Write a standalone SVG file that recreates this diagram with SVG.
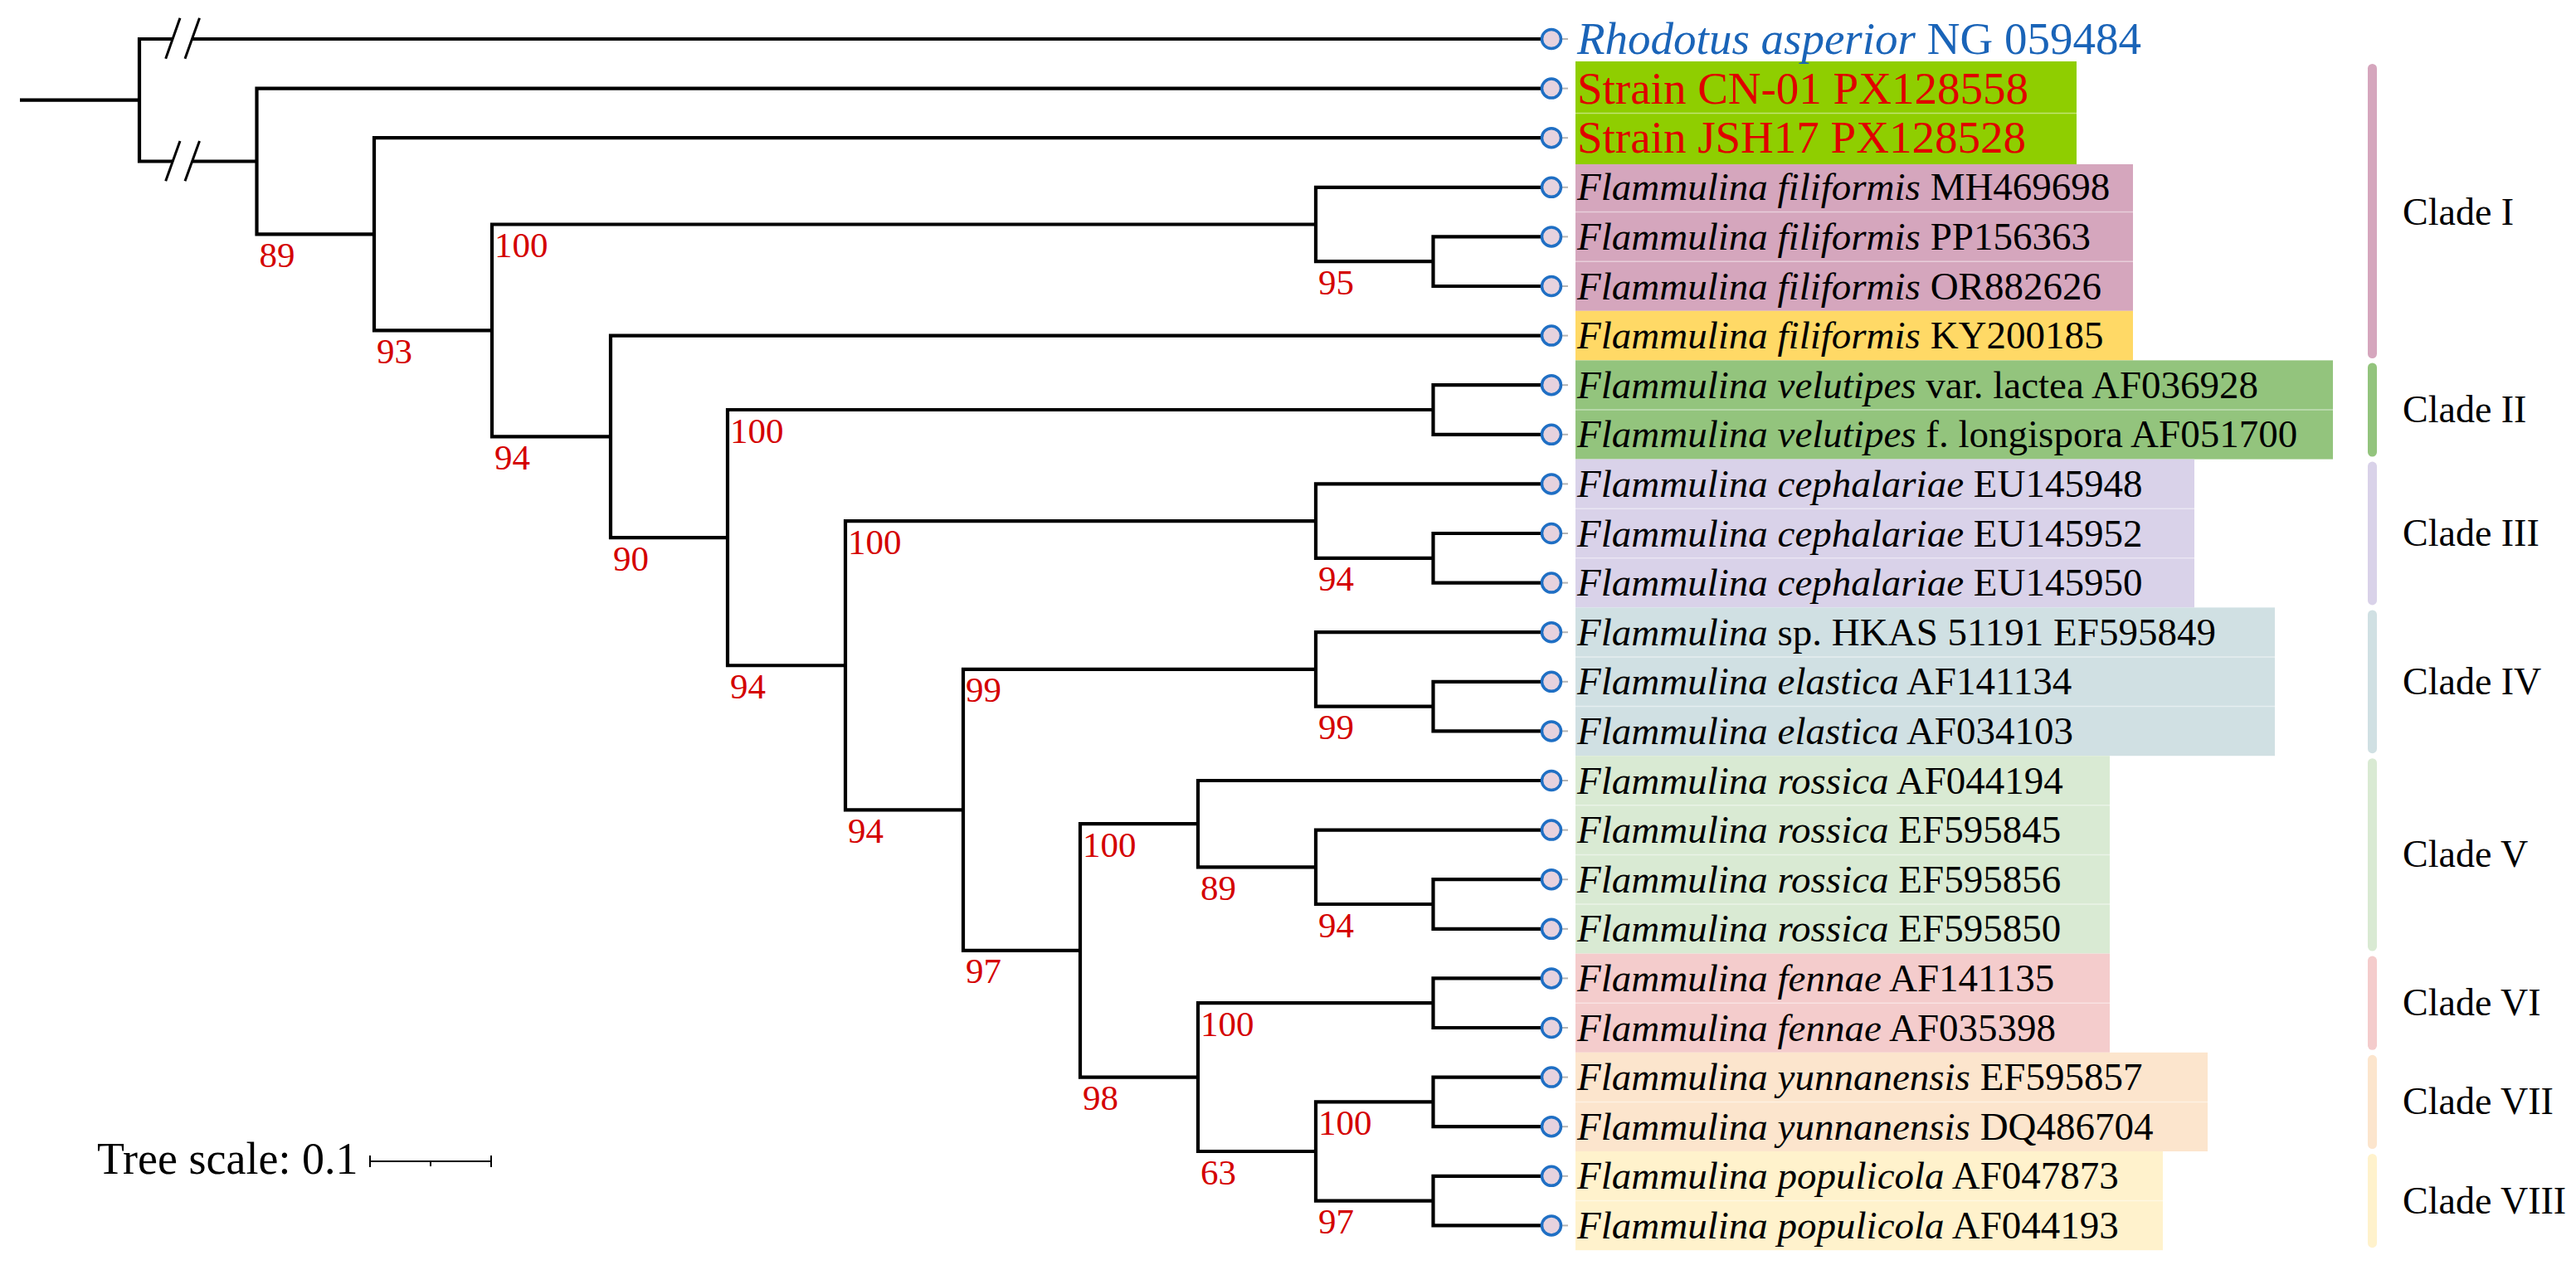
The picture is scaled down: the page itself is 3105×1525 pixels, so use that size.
<svg xmlns="http://www.w3.org/2000/svg" width="3105" height="1525" viewBox="0 0 3105 1525">
<style>
.br{fill:none;stroke:#000;stroke-width:4.2;stroke-linejoin:miter;stroke-linecap:butt}
.sl{fill:none;stroke:#000;stroke-width:3}
.bs{font-family:"Liberation Serif","Times New Roman",serif;font-size:43px;fill:#d40000}
.lf{font-family:"Liberation Serif","Times New Roman",serif;font-size:47px;fill:#000}
.big{font-size:55px}
.red{fill:#e00000}
.blue{fill:#1a64b8}
.it{font-style:italic}
.tip{fill:#e6d2de;stroke:#1f6fc4;stroke-width:3.5}
.stub{stroke:#b4b4b4;stroke-width:2}
.sep{stroke:#ffffff;stroke-opacity:0.45;stroke-width:1.5}
.cl{font-family:"Liberation Serif","Times New Roman",serif;font-size:46px;fill:#000}
.sc{font-family:"Liberation Serif","Times New Roman",serif;font-size:54px;fill:#000}
.scl{fill:none;stroke:#000;stroke-width:2}
</style>
<rect x="0" y="0" width="3105" height="1525" fill="#ffffff"/>

<!-- background label strips -->
<g id="strips">
<rect x="1899" y="74" width="604" height="124" fill="#8fce00"/>
<rect x="1899" y="198" width="672" height="176.8" fill="#d5a6bd"/>
<rect x="1899" y="374.8" width="672" height="59.6" fill="#ffd966"/>
<rect x="1899" y="434.4" width="913" height="119.2" fill="#93c47d"/>
<rect x="1899" y="553.6" width="746" height="178.8" fill="#d9d2e9"/>
<rect x="1899" y="732.4" width="843" height="178.8" fill="#d0e0e3"/>
<rect x="1899" y="911.2" width="644" height="238.4" fill="#d9ead3"/>
<rect x="1899" y="1149.6" width="644" height="119.2" fill="#f4cccc"/>
<rect x="1899" y="1268.8" width="762" height="119.2" fill="#fce5cd"/>
<rect x="1899" y="1388" width="708" height="119.2" fill="#fff2cc"/>
<line class="sep" x1="1899" y1="136.4" x2="2503" y2="136.4"/>
<line class="sep" x1="1899" y1="255.6" x2="2571" y2="255.6"/>
<line class="sep" x1="1899" y1="315.2" x2="2571" y2="315.2"/>
<line class="sep" x1="1899" y1="494" x2="2812" y2="494"/>
<line class="sep" x1="1899" y1="613.2" x2="2645" y2="613.2"/>
<line class="sep" x1="1899" y1="672.8" x2="2645" y2="672.8"/>
<line class="sep" x1="1899" y1="792" x2="2742" y2="792"/>
<line class="sep" x1="1899" y1="851.6" x2="2742" y2="851.6"/>
<line class="sep" x1="1899" y1="970.8" x2="2543" y2="970.8"/>
<line class="sep" x1="1899" y1="1030.4" x2="2543" y2="1030.4"/>
<line class="sep" x1="1899" y1="1090" x2="2543" y2="1090"/>
<line class="sep" x1="1899" y1="1209.2" x2="2543" y2="1209.2"/>
<line class="sep" x1="1899" y1="1328.4" x2="2661" y2="1328.4"/>
<line class="sep" x1="1899" y1="1447.6" x2="2607" y2="1447.6"/>
</g>

<!-- connectors -->
<g id="connectors">
<path class="br" d="M24 120.7 H168"/>
<path class="br" d="M208 47 H168 V194.5 H208"/>
<path class="br" d="M231.5 47 H1870"/>
<path class="br" d="M231.5 194.5 H309.5"/>
<line class="sl" x1="199.7" y1="70.7" x2="217" y2="21.7"/>
<line class="sl" x1="223" y1="70.7" x2="240.5" y2="21.7"/>
<line class="sl" x1="199.7" y1="218.3" x2="217" y2="170"/>
<line class="sl" x1="223" y1="218.3" x2="240.5" y2="170"/>
<path class="br" d="M1870 106.6 H309.5 V282.3 H451"/>
<path class="br" d="M1870 166.2 H451 V398.4 H593"/>
<path class="br" d="M1586 270.5 H593 V526.4 H736"/>
<path class="br" d="M1870 225.8 H1586 V315.2 H1727.5"/>
<path class="br" d="M1870 285.4 H1727.5 V345 H1870"/>
<path class="br" d="M1870 404.6 H736 V648.1 H877"/>
<path class="br" d="M1727.5 494 H877 V802.25 H1019"/>
<path class="br" d="M1870 464.2 H1727.5 V523.8 H1870"/>
<path class="br" d="M1586 628.1 H1019 V976.4 H1161"/>
<path class="br" d="M1870 583.4 H1586 V672.8 H1727.5"/>
<path class="br" d="M1870 643 H1727.5 V702.6 H1870"/>
<path class="br" d="M1586 806.9 H1161 V1145.9 H1302"/>
<path class="br" d="M1870 762.2 H1586 V851.6 H1727.5"/>
<path class="br" d="M1870 821.8 H1727.5 V881.4 H1870"/>
<path class="br" d="M1444 993.15 H1302 V1298.6 H1444"/>
<path class="br" d="M1870 941 H1444 V1045.3 H1586"/>
<path class="br" d="M1870 1000.6 H1586 V1090 H1727.5"/>
<path class="br" d="M1870 1060.2 H1727.5 V1119.8 H1870"/>
<path class="br" d="M1727.5 1209.2 H1444 V1388 H1586"/>
<path class="br" d="M1870 1179.4 H1727.5 V1239 H1870"/>
<path class="br" d="M1727.5 1328.4 H1586 V1447.6 H1727.5"/>
<path class="br" d="M1870 1298.6 H1727.5 V1358.2 H1870"/>
<path class="br" d="M1870 1417.8 H1727.5 V1477.4 H1870"/>
</g>

<!-- support values -->
<g id="supports">
<text class="bs" x="312.5" y="321.8">89</text>
<text class="bs" x="454" y="437.9">93</text>
<text class="bs" x="596" y="310">100</text>
<text class="bs" x="596" y="565.9">94</text>
<text class="bs" x="1589" y="354.7">95</text>
<text class="bs" x="739" y="687.6">90</text>
<text class="bs" x="880" y="533.5">100</text>
<text class="bs" x="880" y="841.75">94</text>
<text class="bs" x="1022" y="667.6">100</text>
<text class="bs" x="1022" y="1015.9">94</text>
<text class="bs" x="1589" y="712.3">94</text>
<text class="bs" x="1164" y="846.4">99</text>
<text class="bs" x="1164" y="1185.4">97</text>
<text class="bs" x="1589" y="891.1">99</text>
<text class="bs" x="1305" y="1032.65">100</text>
<text class="bs" x="1305" y="1338.1">98</text>
<text class="bs" x="1447" y="1084.8">89</text>
<text class="bs" x="1589" y="1129.5">94</text>
<text class="bs" x="1447" y="1248.7">100</text>
<text class="bs" x="1447" y="1427.5">63</text>
<text class="bs" x="1589" y="1367.9">100</text>
<text class="bs" x="1589" y="1487.1">97</text>
</g>

<!-- leaves -->
<g id="leaf1"><line class="stub" x1="1881" y1="47" x2="1890" y2="47"/><circle class="tip" cx="1870" cy="47" r="11.5"/><text class="lf big blue" x="1901" y="65"><tspan class="it">Rhodotus asperior</tspan> NG 059484</text></g>
<g id="leaf2"><line class="stub" x1="1881" y1="106.6" x2="1890" y2="106.6"/><circle class="tip" cx="1870" cy="106.6" r="11.5"/><text class="lf big red" x="1901" y="124.6">Strain CN-01 PX128558</text></g>
<g id="leaf3"><line class="stub" x1="1881" y1="166.2" x2="1890" y2="166.2"/><circle class="tip" cx="1870" cy="166.2" r="11.5"/><text class="lf big red" x="1901" y="184.2">Strain JSH17 PX128528</text></g>
<g id="leaf4"><line class="stub" x1="1881" y1="225.8" x2="1890" y2="225.8"/><circle class="tip" cx="1870" cy="225.8" r="11.5"/><text class="lf" x="1901" y="241.3"><tspan class="it">Flammulina filiformis</tspan> MH469698</text></g>
<g id="leaf5"><line class="stub" x1="1881" y1="285.4" x2="1890" y2="285.4"/><circle class="tip" cx="1870" cy="285.4" r="11.5"/><text class="lf" x="1901" y="300.9"><tspan class="it">Flammulina filiformis</tspan> PP156363</text></g>
<g id="leaf6"><line class="stub" x1="1881" y1="345" x2="1890" y2="345"/><circle class="tip" cx="1870" cy="345" r="11.5"/><text class="lf" x="1901" y="360.5"><tspan class="it">Flammulina filiformis</tspan> OR882626</text></g>
<g id="leaf7"><line class="stub" x1="1881" y1="404.6" x2="1890" y2="404.6"/><circle class="tip" cx="1870" cy="404.6" r="11.5"/><text class="lf" x="1901" y="420.1"><tspan class="it">Flammulina filiformis</tspan> KY200185</text></g>
<g id="leaf8"><line class="stub" x1="1881" y1="464.2" x2="1890" y2="464.2"/><circle class="tip" cx="1870" cy="464.2" r="11.5"/><text class="lf" x="1901" y="479.7"><tspan class="it">Flammulina velutipes</tspan> var. lactea AF036928</text></g>
<g id="leaf9"><line class="stub" x1="1881" y1="523.8" x2="1890" y2="523.8"/><circle class="tip" cx="1870" cy="523.8" r="11.5"/><text class="lf" x="1901" y="539.3"><tspan class="it">Flammulina velutipes</tspan> f. longispora AF051700</text></g>
<g id="leaf10"><line class="stub" x1="1881" y1="583.4" x2="1890" y2="583.4"/><circle class="tip" cx="1870" cy="583.4" r="11.5"/><text class="lf" x="1901" y="598.9"><tspan class="it">Flammulina cephalariae</tspan> EU145948</text></g>
<g id="leaf11"><line class="stub" x1="1881" y1="643" x2="1890" y2="643"/><circle class="tip" cx="1870" cy="643" r="11.5"/><text class="lf" x="1901" y="658.5"><tspan class="it">Flammulina cephalariae</tspan> EU145952</text></g>
<g id="leaf12"><line class="stub" x1="1881" y1="702.6" x2="1890" y2="702.6"/><circle class="tip" cx="1870" cy="702.6" r="11.5"/><text class="lf" x="1901" y="718.1"><tspan class="it">Flammulina cephalariae</tspan> EU145950</text></g>
<g id="leaf13"><line class="stub" x1="1881" y1="762.2" x2="1890" y2="762.2"/><circle class="tip" cx="1870" cy="762.2" r="11.5"/><text class="lf" x="1901" y="777.7"><tspan class="it">Flammulina</tspan> sp. HKAS 51191 EF595849</text></g>
<g id="leaf14"><line class="stub" x1="1881" y1="821.8" x2="1890" y2="821.8"/><circle class="tip" cx="1870" cy="821.8" r="11.5"/><text class="lf" x="1901" y="837.3"><tspan class="it">Flammulina elastica</tspan> AF141134</text></g>
<g id="leaf15"><line class="stub" x1="1881" y1="881.4" x2="1890" y2="881.4"/><circle class="tip" cx="1870" cy="881.4" r="11.5"/><text class="lf" x="1901" y="896.9"><tspan class="it">Flammulina elastica</tspan> AF034103</text></g>
<g id="leaf16"><line class="stub" x1="1881" y1="941" x2="1890" y2="941"/><circle class="tip" cx="1870" cy="941" r="11.5"/><text class="lf" x="1901" y="956.5"><tspan class="it">Flammulina rossica</tspan> AF044194</text></g>
<g id="leaf17"><line class="stub" x1="1881" y1="1000.6" x2="1890" y2="1000.6"/><circle class="tip" cx="1870" cy="1000.6" r="11.5"/><text class="lf" x="1901" y="1016.1"><tspan class="it">Flammulina rossica</tspan> EF595845</text></g>
<g id="leaf18"><line class="stub" x1="1881" y1="1060.2" x2="1890" y2="1060.2"/><circle class="tip" cx="1870" cy="1060.2" r="11.5"/><text class="lf" x="1901" y="1075.7"><tspan class="it">Flammulina rossica</tspan> EF595856</text></g>
<g id="leaf19"><line class="stub" x1="1881" y1="1119.8" x2="1890" y2="1119.8"/><circle class="tip" cx="1870" cy="1119.8" r="11.5"/><text class="lf" x="1901" y="1135.3"><tspan class="it">Flammulina rossica</tspan> EF595850</text></g>
<g id="leaf20"><line class="stub" x1="1881" y1="1179.4" x2="1890" y2="1179.4"/><circle class="tip" cx="1870" cy="1179.4" r="11.5"/><text class="lf" x="1901" y="1194.9"><tspan class="it">Flammulina fennae</tspan> AF141135</text></g>
<g id="leaf21"><line class="stub" x1="1881" y1="1239" x2="1890" y2="1239"/><circle class="tip" cx="1870" cy="1239" r="11.5"/><text class="lf" x="1901" y="1254.5"><tspan class="it">Flammulina fennae</tspan> AF035398</text></g>
<g id="leaf22"><line class="stub" x1="1881" y1="1298.6" x2="1890" y2="1298.6"/><circle class="tip" cx="1870" cy="1298.6" r="11.5"/><text class="lf" x="1901" y="1314.1"><tspan class="it">Flammulina yunnanensis</tspan> EF595857</text></g>
<g id="leaf23"><line class="stub" x1="1881" y1="1358.2" x2="1890" y2="1358.2"/><circle class="tip" cx="1870" cy="1358.2" r="11.5"/><text class="lf" x="1901" y="1373.7"><tspan class="it">Flammulina yunnanensis</tspan> DQ486704</text></g>
<g id="leaf24"><line class="stub" x1="1881" y1="1417.8" x2="1890" y2="1417.8"/><circle class="tip" cx="1870" cy="1417.8" r="11.5"/><text class="lf" x="1901" y="1433.3"><tspan class="it">Flammulina populicola</tspan> AF047873</text></g>
<g id="leaf25"><line class="stub" x1="1881" y1="1477.4" x2="1890" y2="1477.4"/><circle class="tip" cx="1870" cy="1477.4" r="11.5"/><text class="lf" x="1901" y="1492.9"><tspan class="it">Flammulina populicola</tspan> AF044193</text></g>

<!-- clade annotations -->
<g id="clade1"><rect x="2854" y="77" width="11" height="355" rx="5.5" fill="#d5a6bd"/><text class="cl" x="2896" y="270.6">Clade I</text></g>
<g id="clade2"><rect x="2854" y="437.4" width="11" height="113.2" rx="5.5" fill="#93c47d"/><text class="cl" x="2896" y="509">Clade II</text></g>
<g id="clade3"><rect x="2854" y="556.6" width="11" height="172.8" rx="5.5" fill="#d9d2e9"/><text class="cl" x="2896" y="658">Clade III</text></g>
<g id="clade4"><rect x="2854" y="735.4" width="11" height="172.8" rx="5.5" fill="#d0e0e3"/><text class="cl" x="2896" y="836.8">Clade IV</text></g>
<g id="clade5"><rect x="2854" y="914.2" width="11" height="232.4" rx="5.5" fill="#d9ead3"/><text class="cl" x="2896" y="1045.4">Clade V</text></g>
<g id="clade6"><rect x="2854" y="1152.6" width="11" height="113.2" rx="5.5" fill="#f4cccc"/><text class="cl" x="2896" y="1224.2">Clade VI</text></g>
<g id="clade7"><rect x="2854" y="1271.8" width="11" height="113.2" rx="5.5" fill="#fce5cd"/><text class="cl" x="2896" y="1343.4">Clade VII</text></g>
<g id="clade8"><rect x="2854" y="1391" width="11" height="113.2" rx="5.5" fill="#fff2cc"/><text class="cl" x="2896" y="1462.6">Clade VIII</text></g>

<!-- scale -->
<g id="scale">
<text class="sc" x="117" y="1415">Tree scale: 0.1</text>
<path class="scl" d="M446 1393 V1407 M446 1400 H592 M592 1393 V1407 M519 1400 V1406"/>
</g>
</svg>
